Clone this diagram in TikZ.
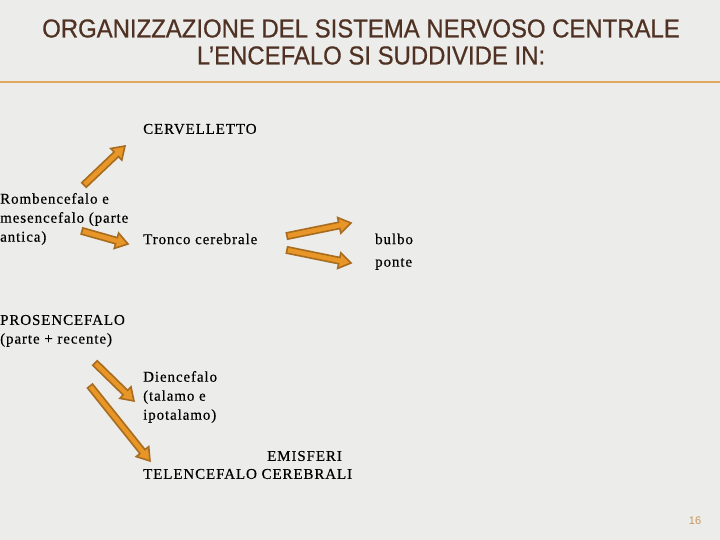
\documentclass[tikz,border=0pt]{standalone}
\usepackage{fontspec}
\setmainfont{Liberation Serif}
\newfontfamily\lblfont[LetterSpace=6,FakeBold=0.4]{Liberation Serif}
\newfontfamily\titlefont[FakeStretch=0.92,FakeBold=0.6]{Liberation Sans}
\newfontfamily\numfont{Liberation Sans}
\usetikzlibrary{calc}
\definecolor{bgc}{RGB}{236,236,234}
\definecolor{titc}{RGB}{80,50,36}
\definecolor{arrfill}{RGB}{232,150,40}
\definecolor{arrdraw}{RGB}{168,108,30}
\definecolor{rulec}{RGB}{226,168,96}
\definecolor{numc}{RGB}{200,150,90}
\tikzset{
  lbl/.style={anchor=west, inner sep=0pt, font=\lblfont\fontsize{15}{19}\selectfont, align=left, text=black},
  barrow/.style={fill=arrfill, draw=arrdraw, line width=1.6pt, line join=miter}
}
\newcommand\blockarrow[2]{%
  \draw[barrow] let \p1=($(#2)-(#1)$), \n1={atan2(\y1,\x1)}, \n2={veclen(\x1,\y1)} in
    [shift={(#1)}, rotate=\n1]
    (0,-3.2) -- (\n2-12,-3.2) -- (\n2-12,-8) -- (\n2,0) -- (\n2-12,8) -- (\n2-12,3.2) -- (0,3.2) -- cycle;}
\begin{document}
\begin{tikzpicture}[x=1pt,y=-1pt]
\useasboundingbox (0,0) rectangle (720,540);
\fill[bgc] (0,0) rectangle (720,540);
% title
\node[text=titc, font=\titlefont\fontsize{26}{27}\selectfont, align=center] (title) at (361,42)
  {ORGANIZZAZIONE DEL SISTEMA NERVOSO CENTRALE\\\hspace*{20pt}L’ENCEFALO SI SUDDIVIDE IN:};
\draw[rulec, line width=1.2pt] (0,82) -- (720,82);
% labels
\node[lbl] (cerv) at (143,129) {CERVELLETTO};
\node[lbl] (romb) at (0,219) {Rombencefalo e\\mesencefalo (parte\\antica)};
\node[lbl] (tronco) at (143,239) {Tronco cerebrale};
\node[lbl] (bulbo) at (375,239) {bulbo};
\node[lbl] (ponte) at (375,264) {ponte};
\node[lbl] (pros) at (0,320) {PROSENCEFALO};
\node[lbl] (parte) at (0,340) {(parte + recente)};
\node[lbl] (dien) at (143,397) {Diencefalo\\(talamo e\\ipotalamo)};
\node[lbl] (emis) at (267,456) {EMISFERI};
\node[lbl] (tele) at (143,474) {TELENCEFALO CEREBRALI};
\node[text=numc, font=\numfont\fontsize{11}{12}\selectfont] (num) at (695,521) {16};
% arrow endpoints
\coordinate (a1s) at (84,185); \coordinate (a1e) at (125,146);
\coordinate (a2s) at (82,231); \coordinate (a2e) at (128,244);
\coordinate (a3s) at (287,236); \coordinate (a3e) at (351,223);
\coordinate (a4s) at (287,250); \coordinate (a4e) at (351,263);
\coordinate (a5s) at (95,363); \coordinate (a5e) at (134,401);
\coordinate (a6s) at (90,386); \coordinate (a6e) at (150,461);
\blockarrow{a1s}{a1e}
\blockarrow{a2s}{a2e}
\blockarrow{a3s}{a3e}
\blockarrow{a4s}{a4e}
\blockarrow{a5s}{a5e}
\blockarrow{a6s}{a6e}
\end{tikzpicture}
\end{document}
